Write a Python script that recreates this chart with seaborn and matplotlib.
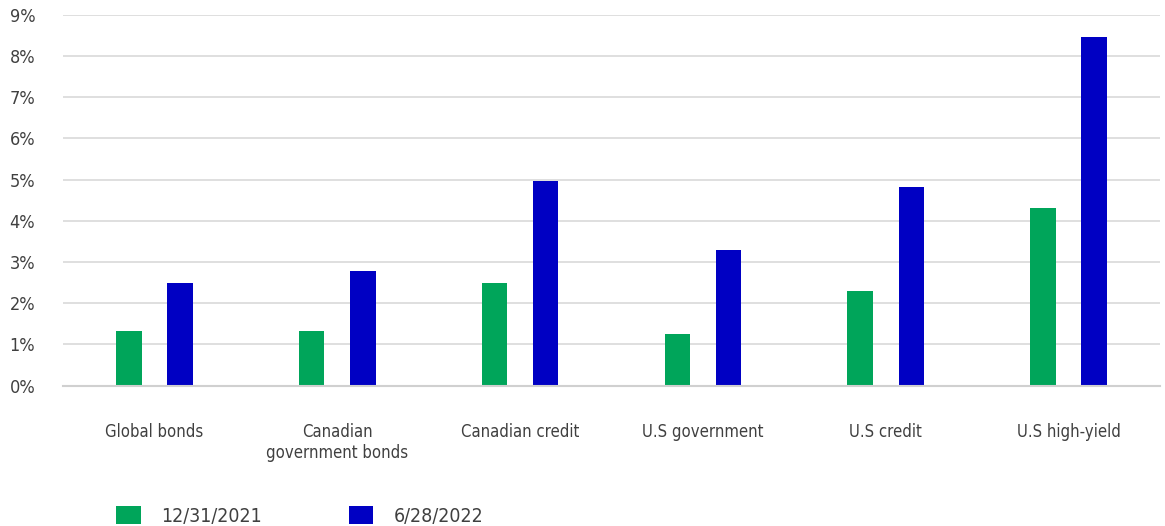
import matplotlib
matplotlib.use("Agg")
import matplotlib.pyplot as plt
import seaborn as sns
import pandas as pd
from matplotlib.ticker import FuncFormatter

categories = ["Global bonds", "Canadian\ngovernment bonds", "Canadian credit",
              "U.S government", "U.S credit", "U.S high-yield"]
series_names = ["12/31/2021", "6/28/2022"]
values_2021 = [1.33, 1.33, 2.49, 1.25, 2.30, 4.31]
values_2022 = [2.50, 2.78, 4.96, 3.29, 4.82, 8.46]
y_ticks = [0, 1, 2, 3, 4, 5, 6, 7, 8, 9]

df = pd.DataFrame({
    "category": categories * 2,
    "series": [series_names[0]] * len(categories) + [series_names[1]] * len(categories),
    "value": values_2021 + values_2022,
})

sns.set_theme(style="white")
plt.rcParams['font.family'] = ['DejaVu Sans']
plt.rcParams['font.stretch'] = 'condensed'
plt.rcParams['font.weight'] = 'light'

fig = plt.figure(figsize=(11.65, 5.26), dpi=100)
ax = fig.add_axes([63/1165, (526-385.7)/526, (1160-63)/1165, (385.7-14.7)/526])

palette = {series_names[0]: "#00a55a", series_names[1]: "#0000c3"}
sns.barplot(data=df, x="category", y="value", hue="series", palette=palette,
            width=0.56, gap=0.5, ax=ax, saturation=1, edgecolor="none")

ax.set_ylim(0, 9)
ax.set_xlim(-0.5, 5.5)
ax.set_yticks(y_ticks)
ax.yaxis.set_major_formatter(FuncFormatter(lambda v, p: f"{int(v)}%"))
ax.grid(axis="y", color="#d9d9d9", linewidth=1.2)
ax.set_axisbelow(True)
for s in ["top", "right", "left"]:
    ax.spines[s].set_visible(False)
ax.spines["bottom"].set_color("#d0d0d0")
ax.spines["bottom"].set_linewidth(1.5)
ax.set_xlabel("")
ax.set_ylabel("")
ax.tick_params(axis="y", length=0, pad=20, labelsize=13, labelcolor="#404040")
ax.tick_params(axis="x", length=0, pad=27, labelsize=12, labelcolor="#404040")

sns.move_legend(ax, "center left", bbox_to_anchor=(99/1165, 1 - 516/526),
                bbox_transform=fig.transFigure, ncol=2, frameon=False,
                title=None, fontsize=14, handlelength=1.24, handleheight=1.03,
                handletextpad=1.08, columnspacing=4.45, labelcolor="#404040")

fig.savefig("out.png", dpi=100)
